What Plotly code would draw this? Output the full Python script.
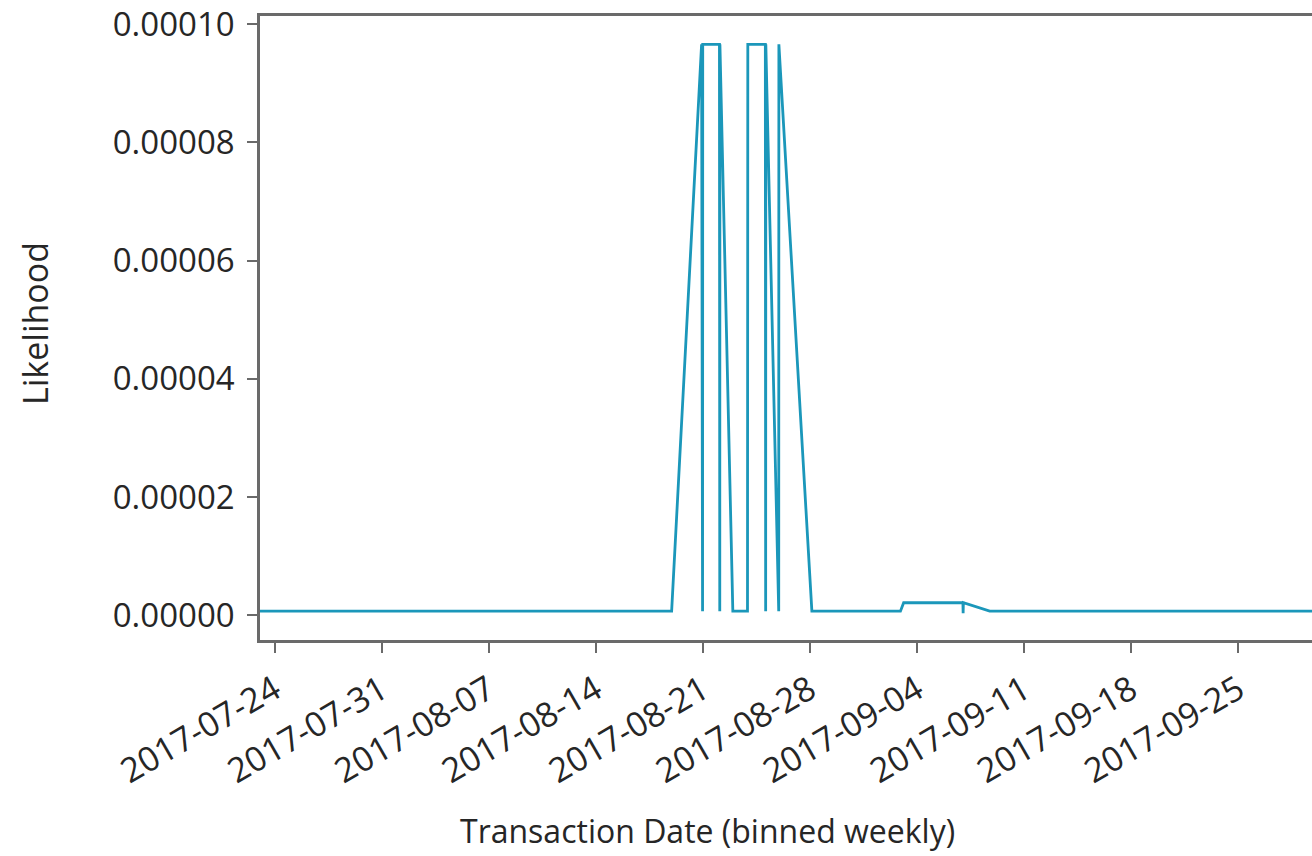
import plotly.graph_objects as go

# Data (dates, likelihood)
LOW = 0.00000068
HIGH = 0.0000966
BUMP = 0.0000021
DIP = 0.00000034

dates = [
    "2017-07-23 00:00", "2017-08-18 23:00", "2017-08-20 22:00", "2017-08-20 23:30",
    "2017-08-20 23:45", "2017-08-22 02:00", "2017-08-22 02:30", "2017-08-22 02:45",
    "2017-08-22 23:00", "2017-08-23 22:00", "2017-08-23 22:30", "2017-08-25 02:00",
    "2017-08-25 02:30", "2017-08-25 02:45", "2017-08-25 23:00", "2017-08-25 23:15",
    "2017-08-28 03:00", "2017-09-02 22:00", "2017-09-03 03:00", "2017-09-07 00:00",
    "2017-09-07 00:20", "2017-09-07 00:40", "2017-09-08 18:00", "2017-10-01 00:00",
]
likelihood = [
    LOW, LOW, HIGH, LOW,
    HIGH, HIGH, LOW, HIGH,
    LOW, LOW, HIGH, HIGH,
    LOW, HIGH, LOW, HIGH,
    LOW, LOW, BUMP, BUMP,
    DIP, BUMP, LOW, LOW,
]

tick_dates = ["2017-07-24", "2017-07-31", "2017-08-07", "2017-08-14", "2017-08-21",
              "2017-08-28", "2017-09-04", "2017-09-11", "2017-09-18", "2017-09-25"]
y_ticks = [0.0, 0.00002, 0.00004, 0.00006, 0.00008, 0.00010]
y_labels = ["0.00000", "0.00002", "0.00004", "0.00006", "0.00008", "0.00010"]

FONT = "Open Sans"
TXT = "#262626"
SPINE = "#6a6a6a"

fig = go.Figure()
fig.add_trace(go.Scatter(
    x=dates, y=likelihood, mode="lines",
    line=dict(color="#1b97ba", width=2.8),
    hoverinfo="skip", showlegend=False,
))

fig.update_layout(
    width=1312, height=856,
    margin=dict(l=260, r=0, t=16, b=216, autoexpand=False),
    paper_bgcolor="white", plot_bgcolor="white",
    font=dict(family=FONT, color=TXT, size=30),
    annotations=[
        dict(text="Transaction Date (binned weekly)", xref="paper", yref="paper",
             x=0.425, y=-0.3045, xanchor="center", yanchor="middle", showarrow=False,
             font=dict(family=FONT, size=32, color=TXT)),
        dict(text="Likelihood", xref="paper", yref="paper", textangle=-90,
             x=-0.2139, y=0.508, xanchor="center", yanchor="middle", showarrow=False,
             font=dict(family=FONT, size=34, color=TXT)),
    ],
)
fig.update_xaxes(
    type="date", automargin=False,
    range=["2017-07-23 01:10", "2017-09-29 19:40"],
    tickvals=tick_dates, ticktext=tick_dates,
    tickangle=-30,
    tickfont=dict(family=FONT, size=34, color=TXT),
    ticks="outside", ticklen=10, tickwidth=2, tickcolor=SPINE,
    showline=True, linecolor=SPINE, linewidth=2.5, mirror=True,
    showgrid=False, zeroline=False,
    ticklabelstandoff=4, ticklabeloverflow="allow",
)
fig.update_yaxes(
    automargin=False,
    range=[-0.0000042, 0.0001014],
    tickvals=y_ticks, ticktext=y_labels,
    tickfont=dict(family=FONT, size=33, color=TXT),
    ticks="outside", ticklen=10, tickwidth=2, tickcolor=SPINE,
    showline=True, linecolor=SPINE, linewidth=2.5, mirror=False,
    showgrid=False, zeroline=False,
    ticklabelstandoff=6, ticklabeloverflow="allow",
)

# remove the page's default body margin so the figure fills the window exactly
fig.write_html("out.html", config={"displayModeBar": False},
               post_script="document.body.style.margin='0';")
